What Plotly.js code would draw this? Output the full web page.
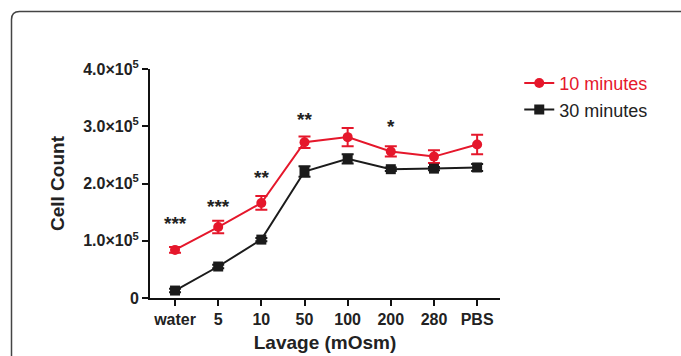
<!DOCTYPE html>
<html>
<head>
<meta charset="utf-8">
<script src="https://cdn.plot.ly/plotly-3.0.1.min.js"></script>
<style>
html,body{margin:0;padding:0;background:#fff;}
#chart{width:681px;height:356px;}
</style>
</head>
<body>
<div id="chart"></div>
<script>
const categories = ["water", "5", "10", "50", "100", "200", "280", "PBS"];
const tenMin = [0.84e5, 1.24e5, 1.66e5, 2.72e5, 2.81e5, 2.56e5, 2.47e5, 2.68e5];
const tenMinErr = [0.05e5, 0.11e5, 0.12e5, 0.10e5, 0.16e5, 0.09e5, 0.11e5, 0.17e5];
const thirtyMin = [0.13e5, 0.55e5, 1.02e5, 2.21e5, 2.43e5, 2.25e5, 2.26e5, 2.28e5];
const thirtyMinErr = [0.03e5, 0.03e5, 0.03e5, 0.09e5, 0.08e5, 0.03e5, 0.03e5, 0.06e5];
const yTickVals = [0, 1e5, 2e5, 3e5, 4e5];
const yTickText = ["0", "1.0×10<sup>5</sup>", "2.0×10<sup>5</sup>", "3.0×10<sup>5</sup>", "4.0×10<sup>5</sup>"];
const sigCats = ["water", "5", "10", "50", "200"];
const sigLabels = ["***", "***", "**", "**", "*"];
const sigY = [1.31e5, 1.60e5, 2.10e5, 3.11e5, 2.99e5];

const red = "#e5172b";
const black = "#1b1b1b";
const catIdx = c => categories.indexOf(c);
const xs = categories.map((c, i) => i);

const traces = [
  {
    x: xs, y: tenMin, name: `<span style="color:${red}">10 minutes</span>`, type: "scatter", mode: "lines+markers",
    line: {color: red, width: 2},
    marker: {color: red, size: 10, symbol: "circle"},
    error_y: {type: "data", array: tenMinErr, visible: true, color: red, thickness: 2, width: 6}
  },
  {
    x: xs, y: thirtyMin, name: "30 minutes", type: "scatter", mode: "lines+markers",
    line: {color: black, width: 2},
    marker: {color: black, size: 10, symbol: "square"},
    error_y: {type: "data", array: thirtyMinErr, visible: true, color: black, thickness: 2, width: 6}
  }
];

const annotations = sigCats.map((c, i) => ({
  x: catIdx(c), y: sigY[i], xref: "x", yref: "y", text: sigLabels[i], showarrow: false,
  font: {family: "Liberation Sans, Arial, sans-serif", size: 19, color: "#222", weight: "bold"}
}));

// frame (paper coords; plot area 150..500 px x, 69..298 px y)
const px = v => (v - 150) / 350;
const py = v => (298 - v) / 229;
const frameLeft = 11.5, frameTop = 11.5, rad = 8;
const framePath = `M ${px(frameLeft)},${py(400)} L ${px(frameLeft)},${py(frameTop + rad)} Q ${px(frameLeft)},${py(frameTop)} ${px(frameLeft + rad)},${py(frameTop)} L ${px(720)},${py(frameTop)}`;

const layout = {
  width: 681, height: 356,
  margin: {l: 150, r: 181, t: 69, b: 58},
  paper_bgcolor: "#fff", plot_bgcolor: "#fff",
  font: {family: "Liberation Sans, Arial, sans-serif", color: "#222"},
  showlegend: true,
  legend: {
    x: 1.055, y: 1.018, xanchor: "left", yanchor: "top",
    font: {size: 18, color: "#222"},
    bgcolor: "rgba(0,0,0,0)", tracegroupgap: 0
  },
  xaxis: {
    range: [-0.58, 7.53], tickvals: xs, ticktext: categories,
    showgrid: false, zeroline: false, showline: true, linecolor: "#111", linewidth: 2,
    ticks: "outside", ticklen: 6, tickwidth: 2, tickcolor: "#111",
    tickfont: {size: 16, weight: "bold", color: "#222"},
    title: {text: "Lavage (mOsm)", font: {size: 19, weight: "bold", color: "#222"}, standoff: 8}
  },
  yaxis: {
    range: [0, 4e5], tickvals: yTickVals, ticktext: yTickText,
    showgrid: false, zeroline: false, showline: true, linecolor: "#111", linewidth: 2,
    ticks: "outside", ticklen: 6, tickwidth: 2, tickcolor: "#111",
    tickfont: {size: 16, weight: "bold", color: "#222"},
    title: {text: "Cell Count", font: {size: 19, weight: "bold", color: "#222"}, standoff: 14}
  },
  annotations: annotations,
  shapes: [{
    type: "path", xref: "paper", yref: "paper", path: framePath,
    line: {color: "#444", width: 1.5}, layer: "above"
  }]
};

Plotly.newPlot("chart", traces, layout, {displayModeBar: false, staticPlot: true});
</script>
</body>
</html>
